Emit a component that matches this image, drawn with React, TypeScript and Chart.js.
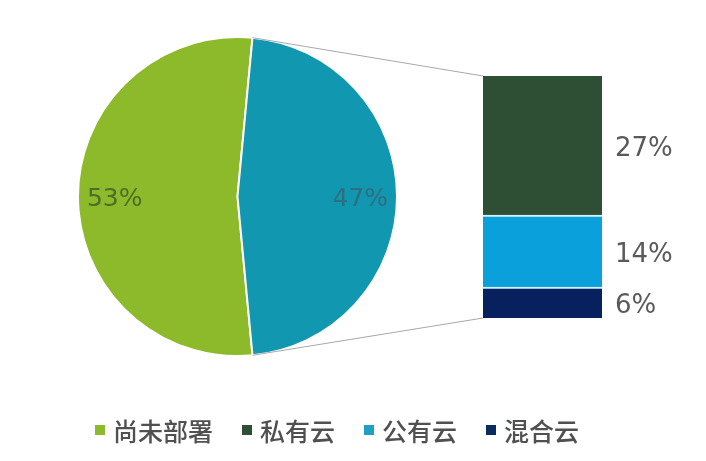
import { useEffect, useRef } from "react";
import { Chart, registerables } from "chart.js";
Chart.register(...registerables);

// Pie: not deployed vs deployed (split into the bar)
const pieLabels = ["尚未部署", "已部署"];
const pieValues = [53, 47];
const pieColors = ["#8cba2b", "#1297b1"];
const pieTextColors = ["#4b6f27", "#2c6f80"];

// Bar segments, bottom to top
const barLabels = ["混合云", "公有云", "私有云"];
const barValues = [6, 14, 27];
const barColors = ["#07215e", "#0aa0dc", "#2f4f35"];

// Legend
const legendLabels = ["尚未部署", "私有云", "公有云", "混合云"];
const legendColors = ["#8cba2b", "#2f4f35", "#1fa0c3", "#0b2a5e"];

const NUM_FONT = "'DejaVu Sans', Verdana, sans-serif";
const CJK_FONT = "'Noto Sans CJK SC', 'Noto Sans', sans-serif";

export default function App() {
  const pieRef = useRef<HTMLCanvasElement | null>(null);
  const barRef = useRef<HTMLCanvasElement | null>(null);

  useEffect(() => {
    if (!pieRef.current || !barRef.current) return;
    const total = pieValues.reduce((a, b) => a + b, 0);
    const splitSpan = (pieValues[1] / total) * 360;
    const rotation = 90 + splitSpan / 2;

    const pieLabelPlugin = {
      id: "pieLabels",
      afterDatasetsDraw(chart: any) {
        const ctx = chart.ctx;
        const meta = chart.getDatasetMeta(0);
        ctx.save();
        ctx.font = `25px ${NUM_FONT}`;
        ctx.textAlign = "center";
        ctx.textBaseline = "middle";
        meta.data.forEach((arc: any, i: number) => {
          const p = arc.getProps(["x", "y", "startAngle", "endAngle", "outerRadius"], true);
          const mid = (p.startAngle + p.endAngle) / 2;
          const d = p.outerRadius * 0.77;
          ctx.fillStyle = pieTextColors[i];
          ctx.fillText(`${pieValues[i]}%`, p.x + Math.cos(mid) * d, p.y + Math.sin(mid) * d + 3);
        });
        ctx.restore();
      },
    };

    const pieChart = new Chart(pieRef.current, {
      type: "pie",
      data: {
        labels: pieLabels,
        datasets: [
          {
            data: pieValues,
            backgroundColor: pieColors,
            borderColor: "#ffffff",
            borderWidth: 2,
          },
        ],
      },
      options: {
        responsive: false,
        animation: false,
        rotation,
        layout: { padding: { left: 77, right: 308, top: 36, bottom: 104 } },
        plugins: { legend: { display: false }, tooltip: { enabled: false } },
      },
      plugins: [pieLabelPlugin],
    });

    const barTotal = barValues.reduce((a, b) => a + b, 0);

    const barExtrasPlugin = {
      id: "barExtras",
      afterDatasetsDraw(chart: any) {
        const ctx = chart.ctx;
        ctx.save();
        // value labels
        ctx.font = `26px ${NUM_FONT}`;
        ctx.textAlign = "left";
        ctx.textBaseline = "middle";
        ctx.fillStyle = "#5a5a5a";
        barValues.forEach((v, i) => {
          const el: any = chart.getDatasetMeta(i).data[0];
          const p = el.getProps(["x", "y", "base", "width"], true);
          ctx.fillText(`${v}%`, chart.chartArea.right + 13, (p.y + p.base) / 2 + 4);
        });
        // connector lines
        const arc: any = pieChart.getDatasetMeta(0).data[1];
        const a = arc.getProps(["x", "y", "startAngle", "endAngle", "outerRadius"], true);
        const topEl: any = chart.getDatasetMeta(barValues.length - 1).data[0];
        const tp = topEl.getProps(["x", "y", "width"], true);
        const botEl: any = chart.getDatasetMeta(0).data[0];
        const bp = botEl.getProps(["x", "base", "width"], true);
        ctx.strokeStyle = "#a8a8a8";
        ctx.lineWidth = 1;
        ctx.beginPath();
        ctx.moveTo(a.x + Math.cos(a.startAngle) * a.outerRadius, a.y + Math.sin(a.startAngle) * a.outerRadius);
        ctx.lineTo(tp.x - tp.width / 2, tp.y);
        ctx.moveTo(a.x + Math.cos(a.endAngle) * a.outerRadius, a.y + Math.sin(a.endAngle) * a.outerRadius);
        ctx.lineTo(bp.x - bp.width / 2, bp.base);
        ctx.stroke();
        ctx.restore();
      },
    };

    const barChart = new Chart(barRef.current, {
      type: "bar",
      data: {
        labels: ["云部署"],
        datasets: barValues.map((v, i) => ({
          label: barLabels[i],
          data: [v],
          backgroundColor: barColors[i],
          borderColor: "#d6f2f6",
          borderWidth: i < barValues.length - 1 ? { top: 2, left: 0, right: 0, bottom: 0 } : 0,
          borderSkipped: false,
          barPercentage: 1,
          categoryPercentage: 1,
        })),
      },
      options: {
        responsive: false,
        animation: false,
        layout: { padding: { left: 483, right: 104, top: 76, bottom: 143 } },
        scales: {
          x: { stacked: true, display: false },
          y: { stacked: true, display: false, min: 0, max: barTotal },
        },
        plugins: { legend: { display: false }, tooltip: { enabled: false } },
      },
      plugins: [barExtrasPlugin],
    });

    return () => {
      barChart.destroy();
      pieChart.destroy();
    };
  }, []);

  return (
    <div
      style={{
        position: "fixed",
        left: 0,
        top: 0,
        width: 706,
        height: 461,
        background: "#ffffff",
        overflow: "hidden",
      }}
    >
      <canvas ref={pieRef} width={706} height={461} style={{ position: "absolute", left: 0, top: 0 }} />
      <canvas ref={barRef} width={706} height={461} style={{ position: "absolute", left: 0, top: 0 }} />
      <div
        style={{
          position: "absolute",
          left: 95,
          top: 413,
          height: 34,
          display: "flex",
          alignItems: "center",
          gap: 29,
          fontFamily: CJK_FONT,
          fontSize: 25,
          fontWeight: 500,
          color: "#505050",
          lineHeight: "34px",
          whiteSpace: "nowrap",
        }}
      >
        {legendLabels.map((l, i) => (
          <div key={l} style={{ display: "flex", alignItems: "center" }}>
            <span
              style={{
                display: "inline-block",
                width: 10,
                height: 10,
                background: legendColors[i],
                marginRight: 8,
              }}
            />
            <span>{l}</span>
          </div>
        ))}
      </div>
    </div>
  );
}
